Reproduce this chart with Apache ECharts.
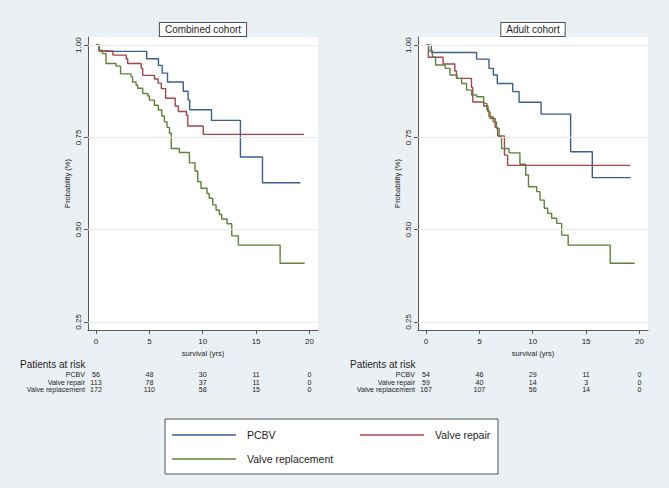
<!DOCTYPE html>
<html><head><meta charset="utf-8">
<script src="https://cdn.jsdelivr.net/npm/echarts@6/dist/echarts.min.js"></script>
<style>html,body{margin:0;padding:0;background:#eaf0f3}#c{width:669px;height:488px}</style>
</head><body><div id="c"></div>
<script>
// ---------- data ----------
const xTicks = [0, 5, 10, 15, 20];
const yTicks = [0.25, 0.50, 0.75, 1.00];
const groups = ['PCBV', 'Valve repair', 'Valve replacement'];
const panelTitles = ['Combined cohort', 'Adult cohort'];
const xAxisName = 'survival (yrs)';
const yAxisName = 'Probability (%)';
const riskTitle = 'Patients at risk';

// Combined cohort (time in years, survival probability after each step)
const combPcbvT = [0, 0.3, 4.75, 5.85, 6.2, 6.7, 8.18, 8.63, 8.78, 10.82, 13.53, 15.6, 19.15];
const combPcbvS = [1.0, 0.983, 0.963, 0.945, 0.924, 0.9, 0.875, 0.851, 0.825, 0.796, 0.697, 0.627, 0.627];
const combRepairT = [0, 0.3, 1.58, 2.83, 2.97, 4.23, 4.38, 5.48, 5.82, 6.12, 6.52, 7.42, 7.72, 8.47, 8.6, 10.05, 19.5];
const combRepairS = [1.0, 0.984, 0.973, 0.963, 0.95, 0.937, 0.918, 0.908, 0.897, 0.882, 0.856, 0.835, 0.82, 0.81, 0.781, 0.758, 0.758];
const combReplT = [0, 0.3, 0.6, 0.94, 1.87, 2.3, 3.28, 3.43, 3.75, 3.9, 4.38, 4.85, 5.0, 5.47, 5.84, 6.16, 6.41, 6.66, 6.88, 7.05, 7.81, 8.75, 9.28, 9.53, 9.84, 10.4, 10.6, 10.94, 11.25, 11.56, 11.78, 12.28, 12.72, 13.34, 17.25, 19.55];
const combReplS = [1.0, 0.986, 0.977, 0.95, 0.943, 0.922, 0.914, 0.9, 0.892, 0.883, 0.869, 0.862, 0.851, 0.837, 0.824, 0.808, 0.792, 0.777, 0.761, 0.72, 0.709, 0.681, 0.659, 0.63, 0.612, 0.598, 0.585, 0.567, 0.553, 0.541, 0.529, 0.516, 0.483, 0.458, 0.409, 0.409];

// Adult cohort
const adultPcbvT = [0, 0.5, 4.74, 5.9, 6.31, 6.68, 8.12, 8.72, 10.78, 13.55, 15.58, 19.18];
const adultPcbvS = [1.0, 0.98, 0.962, 0.937, 0.919, 0.896, 0.874, 0.845, 0.813, 0.711, 0.641, 0.641];
const adultRepairT = [0, 0.22, 1.6, 2.7, 2.85, 4.26, 4.38, 5.4, 5.8, 6.0, 6.48, 6.72, 7.35, 7.65, 19.15];
const adultRepairS = [1.0, 0.967, 0.949, 0.93, 0.91, 0.885, 0.846, 0.835, 0.819, 0.801, 0.777, 0.754, 0.702, 0.674, 0.674];
const adultReplT = [0, 0.25, 0.6, 0.9, 1.8, 2.25, 2.9, 3.34, 3.8, 4.28, 4.75, 5.4, 5.7, 5.9, 6.3, 6.6, 6.85, 7.08, 7.78, 8.8, 9.34, 9.6, 10.37, 10.68, 11.08, 11.4, 11.77, 12.24, 12.71, 13.32, 17.26, 19.55];
const adultReplS = [1.0, 0.985, 0.968, 0.946, 0.937, 0.919, 0.91, 0.896, 0.878, 0.865, 0.86, 0.842, 0.824, 0.806, 0.792, 0.774, 0.752, 0.72, 0.708, 0.677, 0.648, 0.616, 0.603, 0.58, 0.558, 0.544, 0.531, 0.517, 0.485, 0.458, 0.409, 0.409];

// Patients at risk at xTicks
const riskCombPcbv = [56, 48, 30, 11, 0];
const riskCombRepair = [113, 78, 37, 11, 0];
const riskCombRepl = [172, 110, 58, 15, 0];
const riskAdultPcbv = [54, 46, 29, 11, 0];
const riskAdultRepair = [59, 40, 14, 3, 0];
const riskAdultRepl = [167, 107, 56, 14, 0];

// ---------- chart ----------
const FONT = '"Liberation Sans", Arial, sans-serif';
const colors = ['#3b5f8c', '#a8434c', '#5f8238'];
const gridLefts = [88, 418];
const gridTop = 37, gridW = 230, gridH = 293;
const pairs = (t, s) => t.map((v, i) => [v, s[i]]);
const panelData = [
  [pairs(combPcbvT, combPcbvS), pairs(combRepairT, combRepairS), pairs(combReplT, combReplS)],
  [pairs(adultPcbvT, adultPcbvS), pairs(adultRepairT, adultRepairS), pairs(adultReplT, adultReplS)]
];
const panelRisk = [
  [riskCombPcbv, riskCombRepair, riskCombRepl],
  [riskAdultPcbv, riskAdultRepair, riskAdultRepl]
];

const chart = echarts.init(document.getElementById('c'), null, {renderer: 'svg'});
const axisColor = '#5a5a5a';
const txt = '#1e1e1e';

const grids = [], xAxes = [], yAxes = [], series = [];
for (let p = 0; p < 2; p++) {
  grids.push({left: gridLefts[p], top: gridTop, width: gridW, height: gridH, show: true,
    backgroundColor: '#ffffff', borderWidth: 0});
  xAxes.push({type: 'value', gridIndex: p, min: -0.75, max: 20.8,
    axisLine: {show: true, onZero: false, lineStyle: {color: axisColor, width: 1}},
    axisTick: {show: true, length: 4, customValues: xTicks, lineStyle: {color: axisColor}},
    axisLabel: {customValues: xTicks, fontSize: 8, color: txt, margin: 7, fontFamily: FONT},
    splitLine: {show: false},
    name: xAxisName, nameLocation: 'middle', nameGap: 18,
    nameTextStyle: {fontSize: 7.5, color: txt, fontFamily: FONT}});
  yAxes.push({type: 'value', gridIndex: p, min: 0.228, max: 1.022,
    axisLine: {show: true, onZero: false, lineStyle: {color: axisColor, width: 1}},
    axisTick: {show: true, length: 4, customValues: yTicks, lineStyle: {color: axisColor}},
    axisLabel: {customValues: yTicks, rotate: 90, fontSize: 8, color: txt, margin: 6,
      fontFamily: FONT, formatter: v => v.toFixed(2)},
    splitLine: {show: false},
    name: yAxisName, nameLocation: 'middle', nameGap: 17,
    nameTextStyle: {fontSize: 7.5, color: txt, fontFamily: FONT}});
  series.push({type: 'line', xAxisIndex: p, yAxisIndex: p, data: [], z: 1, silent: true,
    markLine: {silent: true, symbol: 'none', animation: false, label: {show: false},
      lineStyle: {color: '#e3ebee', type: 'solid', width: 1},
      data: yTicks.map(v => ({yAxis: v}))}});
  for (let g = 0; g < 3; g++) {
    series.push({type: 'line', name: groups[g], xAxisIndex: p, yAxisIndex: p, step: 'end',
      symbol: 'none', z: 3, data: panelData[p][g],
      lineStyle: {color: colors[g], width: 1.4}, itemStyle: {color: colors[g]}});
  }
}

chart.setOption({
  animation: false,
  backgroundColor: '#eaf0f3',
  textStyle: {fontFamily: FONT},
  grid: grids, xAxis: xAxes, yAxis: yAxes, series: series,
  legend: {data: groups, left: 172, top: 429.5, padding: 0, width: 400,
    icon: 'rect', itemWidth: 64, itemHeight: 1.5, itemGap: 13, selectedMode: false,
    textStyle: {fontSize: 10.5, color: txt, width: 100, lineHeight: 11, padding: [0, 0, 0, 6], fontFamily: FONT}}
});

// graphic elements: titles, risk table, legend frame
const graphic = [];
graphic.push({type: 'rect', z: 0, shape: {x: 165, y: 419, width: 333, height: 55},
  style: {fill: '#ffffff', stroke: '#505050', lineWidth: 1}});
const rowY = [375.3, 382.5, 389.7];
const riskFont = 7.1;
for (let p = 0; p < 2; p++) {
  const cx = gridLefts[p] + gridW / 2;
  graphic.push({type: 'text', x: cx, y: 29.5, z: 10, style: {text: panelTitles[p],
    fontSize: 10, fontFamily: FONT, fill: txt, align: 'center', verticalAlign: 'middle',
    backgroundColor: '#ffffff', borderColor: '#505050', borderWidth: 1, padding: [2, 5, 1, 5]}});
  graphic.push({type: 'text', x: gridLefts[p] - 68, y: 364, z: 10, style: {text: riskTitle,
    fontSize: 10, fontFamily: FONT, fill: txt, align: 'left', verticalAlign: 'middle'}});
  for (let g = 0; g < 3; g++) {
    graphic.push({type: 'text', x: gridLefts[p] - 3, y: rowY[g], z: 10, style: {text: groups[g],
      fontSize: riskFont, lineHeight: 7, fontFamily: FONT, fill: txt, align: 'right', verticalAlign: 'middle'}});
    for (let j = 0; j < xTicks.length; j++) {
      const px = chart.convertToPixel({gridIndex: p}, [xTicks[j], 0.5])[0];
      graphic.push({type: 'text', x: px, y: rowY[g], z: 10, style: {text: String(panelRisk[p][g][j]),
        fontSize: riskFont, lineHeight: 7, fontFamily: FONT, fill: txt, align: 'center', verticalAlign: 'middle'}});
    }
  }
}
chart.setOption({graphic: graphic});
</script>
</body></html>
